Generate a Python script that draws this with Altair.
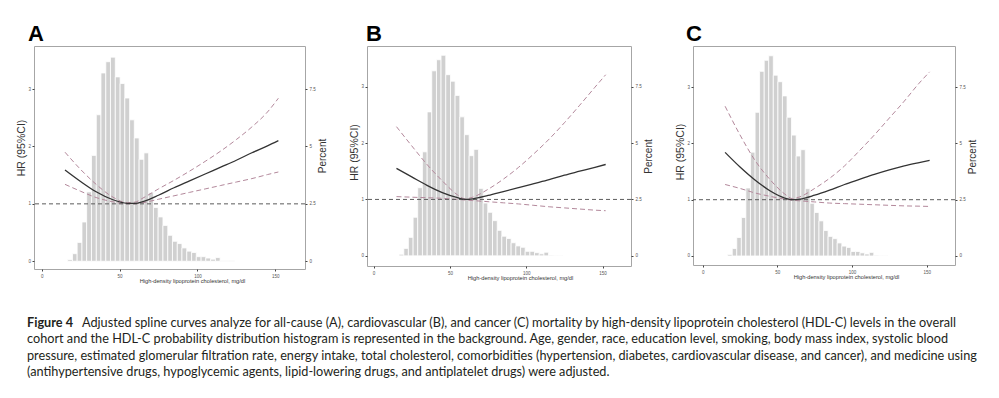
import altair as alt
import pandas as pd

# ---------------- data ----------------
HDL_GRID = [15, 25, 35, 45, 55, 60, 65, 75, 85, 95, 105, 115, 125, 135, 145, 152]

A_HR = [1.59, 1.39, 1.21, 1.08, 1.01, 1.01, 1.04, 1.15, 1.28, 1.40, 1.52, 1.64, 1.76, 1.89, 2.01, 2.10]
A_UP = [1.90, 1.60, 1.34, 1.13, 1.02, 1.03, 1.10, 1.26, 1.41, 1.57, 1.74, 1.92, 2.12, 2.34, 2.60, 2.84]
A_LO = [1.34, 1.22, 1.11, 1.04, 1.00, 1.00, 1.02, 1.08, 1.14, 1.20, 1.26, 1.32, 1.38, 1.44, 1.51, 1.555]

B_HR = [1.55, 1.40, 1.25, 1.12, 1.03, 1.00, 1.01, 1.07, 1.14, 1.21, 1.28, 1.35, 1.43, 1.50, 1.57, 1.62]
B_UP = [2.29, 1.95, 1.62, 1.33, 1.08, 1.01, 1.04, 1.18, 1.36, 1.57, 1.81, 2.07, 2.36, 2.67, 2.99, 3.21]
B_LO = [1.05, 1.04, 1.03, 1.02, 1.00, 0.99, 0.98, 0.96, 0.94, 0.92, 0.895, 0.87, 0.85, 0.83, 0.81, 0.80]

C_HR = [1.84, 1.58, 1.35, 1.16, 1.03, 1.00, 1.01, 1.08, 1.17, 1.27, 1.36, 1.45, 1.53, 1.60, 1.66, 1.70]
C_UP = [2.66, 2.15, 1.70, 1.36, 1.10, 1.02, 1.05, 1.20, 1.38, 1.60, 1.87, 2.15, 2.45, 2.75, 3.07, 3.27]
C_LO = [1.27, 1.20, 1.12, 1.06, 1.01, 0.99, 0.98, 0.96, 0.94, 0.93, 0.92, 0.91, 0.90, 0.89, 0.885, 0.88]

BIN_EDGES = [16.7, 19.8, 22.8, 25.9, 28.9, 32.0, 35.1, 38.1, 41.2, 44.2, 47.3, 50.4,
             53.4, 56.5, 59.5, 62.6, 65.7, 68.7, 71.8, 74.8, 77.9, 81.0, 84.0, 87.1,
             90.1, 93.2, 96.3, 99.3, 102.4, 105.4, 108.5, 111.6, 114.6, 117.7, 120.7, 123.8]
PERCENT = [0.07, 0.33, 0.82, 1.71, 3.02, 4.61, 6.38, 8.20, 8.69, 8.89, 8.03, 7.74,
           7.11, 6.16, 5.37, 4.44, 4.72, 2.99, 2.34, 1.93, 1.56, 1.13, 0.87, 0.77,
           0.58, 0.44, 0.38, 0.20, 0.20, 0.14, 0.09, 0.16, 0.03, 0.02, 0.02]

X_TICKS = [0, 50, 100, 150]
HR_TICKS = [0, 1, 2, 3]
PCT_TICKS = [0, 2.5, 5, 7.5]

X_TITLE = "High-density lipoprotein cholesterol, mg/dl"
CAPTION_BOLD = "Figure 4"
CAPTION_LINES = [
    "Adjusted spline curves analyze for all-cause (A), cardiovascular (B), and cancer (C) mortality by high-density lipoprotein cholesterol (HDL-C) levels in the overall",
    "cohort and the HDL-C probability distribution histogram is represented in the background. Age, gender, race, education level, smoking, body mass index, systolic blood",
    "pressure, estimated glomerular filtration rate, energy intake, total cholesterol, comorbidities (hypertension, diabetes, cardiovascular disease, and cancer), and medicine using",
    "(antihypertensive drugs, hypoglycemic agents, lipid-lowering drugs, and antiplatelet drugs) were adjusted.",
]

LABEL_COLOR = "#555555"
CI_COLOR = "#b3889b"


def panel(letter, hr, up, lo, width, height, x_domain, hr_domain, title_x,
          hr_dy, pct_dy, letter_dx):
    hist_df = pd.DataFrame({"x0": BIN_EDGES[:-1], "x1": BIN_EDGES[1:], "pct": PERCENT})
    curve_df = pd.DataFrame({"hdl": HDL_GRID, "hr": hr, "up": up, "lo": lo})
    ref_df = pd.DataFrame({"ref": [1.0]})
    pct_domain = [hr_domain[0] * 2.5, hr_domain[1] * 2.5]

    xscale = alt.Scale(domain=x_domain, nice=False, zero=False)
    xaxis = alt.Axis(values=X_TICKS, title=X_TITLE, grid=False, domain=False,
                     tickSize=2, tickColor="#444444", labelFontSize=4.5,
                     labelColor=LABEL_COLOR, labelPadding=2, titleFontSize=5.7,
                     titleFontWeight="normal", titleColor="#333333",
                     titleX=title_x, titleY=11, titleBaseline="middle",
                     titleAlign="center")
    yscale = alt.Scale(domain=hr_domain, nice=False, zero=False)
    yaxis = alt.Axis(values=HR_TICKS, title="HR (95%CI)", grid=False, domain=False,
                     tickSize=2, tickColor="#444444", labelFontSize=4.5,
                     labelColor=LABEL_COLOR, labelPadding=1.5, titleFontSize=10.5,
                     titleFontWeight="normal", titleColor="#333333",
                     titleAngle=270, titleX=-13, titleY=height / 2 + hr_dy,
                     titleBaseline="middle", titleAlign="center")
    pscale = alt.Scale(domain=pct_domain, nice=False, zero=False)
    paxis = alt.Axis(values=PCT_TICKS, orient="right", labelExpr="'' + datum.value",
                     title="Percent", grid=False, domain=False, tickSize=2,
                     tickColor="#444444", labelFontSize=4.5, labelColor=LABEL_COLOR,
                     labelPadding=2, titleFontSize=10, titleFontWeight="normal",
                     titleColor="#333333", titleAngle=270, titleX=17.7,
                     titleY=height / 2 + pct_dy, titleBaseline="middle",
                     titleAlign="center")

    hist = alt.Chart(hist_df).mark_bar(color="#d0d0d0", stroke="white",
                                       strokeWidth=0.8).encode(
        x=alt.X("x0:Q", scale=xscale, axis=xaxis),
        x2="x1:Q",
        y=alt.Y("pct:Q", scale=pscale, axis=paxis),
        y2=alt.Y2(datum=0),
    )

    def curve(field, color, dash, sw):
        kw = dict(color=color, strokeWidth=sw, interpolate="monotone")
        if dash:
            kw["strokeDash"] = dash
        return alt.Chart(curve_df).mark_line(**kw).encode(
            x=alt.X("hdl:Q", scale=xscale, axis=xaxis),
            y=alt.Y(f"{field}:Q", scale=yscale, axis=yaxis),
        )

    rule = alt.Chart(ref_df).mark_rule(color="#5c5c5c", strokeDash=[4, 3],
                                       strokeWidth=1).encode(
        y=alt.Y("ref:Q", scale=yscale, axis=yaxis),
    )

    curves = alt.layer(
        curve("up", CI_COLOR, [5, 3], 1),
        curve("lo", CI_COLOR, [5, 3], 1),
        rule,
        curve("hr", "#333333", None, 1.3),
    )

    return alt.layer(hist, curves).resolve_scale(y="independent").properties(
        width=width, height=height,
        title=alt.TitleParams(letter, fontSize=22, fontWeight="bold", anchor="start",
                              frame="group", dx=letter_dx, offset=0, color="black",
                              font="Liberation Sans"),
    )


pa = panel("A", A_HR, A_UP, A_LO, 271, 223, [-4.9, 169.1], [-0.135, 3.75], 158, -10, -2, -6)
pb = panel("B", B_HR, B_UP, B_LO, 264, 220, [-4.3, 168.6], [-0.18, 3.72], 153, -4, 0, -1)
pc = panel("C", C_HR, C_UP, C_LO, 262, 219, [-6.5, 169.0], [-0.16, 3.73], 153, -4, 1, -7)

top = alt.hconcat(pa, pb, pc, spacing=62, bounds="flush")

cap_font = "Lato"
cap_size = 12.7
cap_color = "#231f20"
cap_df = pd.DataFrame({"line": CAPTION_LINES, "row": [0, 1, 2, 3]})
bold_df = pd.DataFrame({"t": [CAPTION_BOLD], "row": [0]})
row_scale = alt.Scale(domain=[0, 3], range=[20, 69])

cap_rest0 = alt.Chart(cap_df).transform_filter("datum.row == 0").mark_text(
    align="left", baseline="middle", fontSize=cap_size, font=cap_font,
    color=cap_color).encode(
    x=alt.value(48),
    y=alt.Y("row:Q", scale=row_scale, axis=None),
    text="line:N",
)
cap_rest = alt.Chart(cap_df).transform_filter("datum.row > 0").mark_text(
    align="left", baseline="middle", fontSize=cap_size, font=cap_font,
    color=cap_color).encode(
    x=alt.value(-7),
    y=alt.Y("row:Q", scale=row_scale, axis=None),
    text="line:N",
)
cap_bold = alt.Chart(bold_df).mark_text(
    align="left", baseline="middle", fontSize=cap_size, font=cap_font,
    fontWeight="bold", color=cap_color).encode(
    x=alt.value(-7),
    y=alt.Y("row:Q", scale=row_scale, axis=None),
    text="t:N",
)
caption = alt.layer(cap_rest0, cap_rest, cap_bold).properties(
    width=950, height=74, view=alt.ViewConfig(stroke="transparent"))

chart = alt.vconcat(top, caption, spacing=18).properties(
    padding={"left": 7, "top": 14, "right": 0, "bottom": 0}
).configure(font="Liberation Sans").configure_view(stroke="#a6a6a6", strokeWidth=1)

chart.save("out.html", embed_options={"renderer": "svg", "actions": False})
